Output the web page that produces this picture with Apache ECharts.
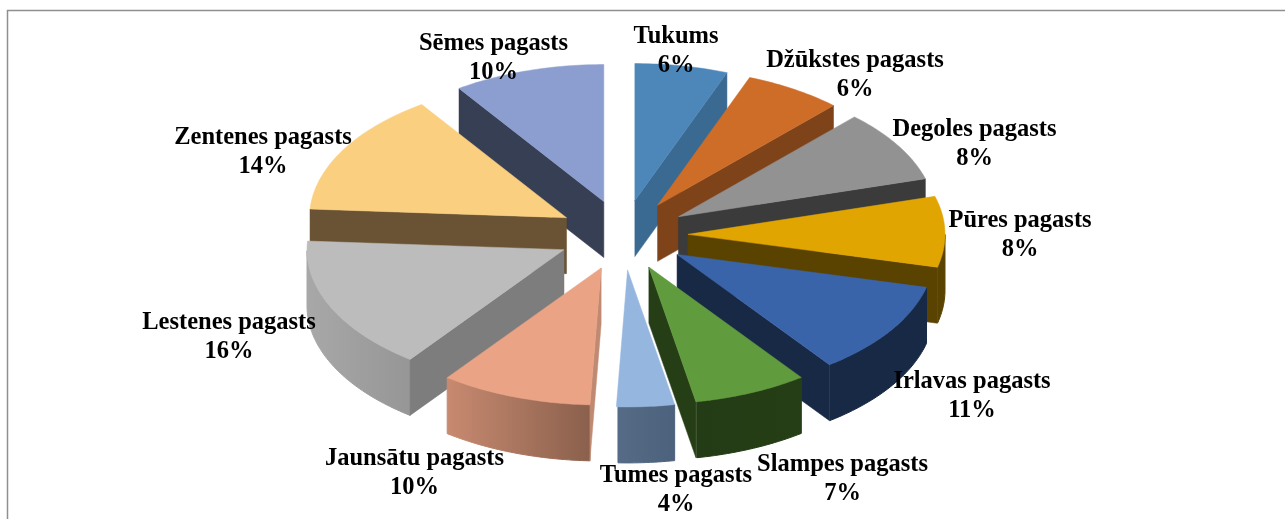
<!DOCTYPE html>
<html>
<head>
<meta charset="utf-8">
<style>html,body{margin:0;padding:0;background:#fff}#c{width:1285px;height:519px}</style>
<script src="https://cdn.jsdelivr.net/npm/echarts@6/dist/echarts.min.js"></script>
</head>
<body>
<div id="c"></div>
<script>
// ---- data ----
var categories = ['Tukums','Džūkstes pagasts','Degoles pagasts','Pūres pagasts','Irlavas pagasts','Slampes pagasts','Tumes pagasts','Jaunsātu pagasts','Lestenes pagasts','Zentenes pagasts','Sēmes pagasts'];
var shares = [6,6,8,8,11,7,4,10,16,14,10];

// ---- styles ----
var faceColors = ['#4d87ba','#ce6d28','#929292','#e0a500','#3a64aa','#609b3e','#95b6df','#eaa385','#bcbcbc','#fbcf80','#8c9ecf'];
var wallColors = ['#3a6a92','#7f431a','#3b3b3b','#5a4300','#172945','#263e16','#50657f','#c08a72','#7d7d7d','#695334','#373f54'];
var rimLeft    = ['#3a6a92','#7f431a','#3b3b3b','#5a4300','#172945','#243c15','#566b85','#c88a70','#a8a8a8','#695334','#373f54'];
var rimRight   = ['#3a6a92','#7f431a','#3b3b3b','#5a4300','#172945','#263e16','#4c617c','#8a604c','#969696','#695334','#373f54'];
var labelCenterX = [676,855,974.5,1020,972,842.5,676,414.5,229,263,493.5];
var labelCenterY = [51.5,75,144,235.5,396,479.5,490,473.5,337,152,58];

// ---- projection of the tilted, exploded pie ----
var view = {cx:623, cy:235, rx:257, ry:137, ex:65, ey:35, depth:56};
// perspective correction of the pie angle, in degrees: [angle, shift]
var perspective = [[0,0],[21.6,-0.6],[43,0],[72,1.9],[100,3.1],[140,3.2],[165,3.9],[180,2.5],[216,0.8],[273,0],[324,1.7],[360,0]];
var RAD = Math.PI/180;
function warp(deg){
  for(var i=1;i<perspective.length;i++){
    var p=perspective[i-1], q=perspective[i];
    if(deg<=q[0]) return deg+p[1]+(q[1]-p[1])*(deg-p[0])/(q[0]-p[0]);
  }
  return deg;
}
var total = shares.reduce(function(a,b){return a+b;},0);
var cum = 0;
var slices = categories.map(function(name,i){
  var s = cum/total*360; cum += shares[i]; var e = cum/total*360;
  var m = warp((s+e)/2);
  return {i:i, start:s, end:e, ax:view.cx+view.ex*Math.sin(m*RAD), ay:view.cy-view.ey*Math.cos(m*RAD)};
});
function rimPoint(sl,deg,dy){
  var t = warp(deg)*RAD;
  return [sl.ax+view.rx*Math.sin(t), sl.ay-view.ry*Math.cos(t)+(dy||0)];
}
// far slices are painted first
var paintOrder = slices.slice().sort(function(a,b){return a.ay-b.ay;}).map(function(s){return s.i;});

function poly(points,fill){
  return {type:'polygon', shape:{points:points}, style:{fill:fill, stroke:fill, lineWidth:0.5}};
}
function renderSlice(params,api){
  var sl = slices[api.value(0)], idx = sl.i, d = view.depth, children = [];
  var apex = [sl.ax,sl.ay], apexLow = [sl.ax,sl.ay+d];
  // curved outer wall: only the part that faces the viewer
  var from = -1, to = -1, a;
  for(a=sl.start;a<=sl.end+1e-6;a+=0.5){
    if(Math.cos(warp(a)*RAD)<0){ if(from<0) from=a; to=a; }
  }
  if(from>=0 && to>from){
    var upper=[], lower=[];
    for(a=from;a<to;a+=1){upper.push(rimPoint(sl,a)); lower.unshift(rimPoint(sl,a,d));}
    upper.push(rimPoint(sl,to)); lower.unshift(rimPoint(sl,to,d));
    var grad = new echarts.graphic.LinearGradient(0,0,1,0,[{offset:0,color:rimLeft[idx]},{offset:1,color:rimRight[idx]}]);
    children.push({type:'polygon',shape:{points:upper.concat(lower)},style:{fill:grad,stroke:grad,lineWidth:1}});
  }
  // straight walls: only those facing the viewer
  [[sl.start,sl.end],[sl.end,sl.start]].forEach(function(pair){
    var P = rimPoint(sl,pair[0]), Q = rimPoint(sl,pair[1]);
    var cross = (P[0]-sl.ax)*(Q[1]-sl.ay)-(P[1]-sl.ay)*(Q[0]-sl.ax);
    if(cross*(P[0]-sl.ax)<0){
      children.push(poly([apex,P,rimPoint(sl,pair[0],d),apexLow],wallColors[idx]));
    }
  });
  // top face
  var face=[apex];
  for(a=sl.start;a<sl.end;a+=1) face.push(rimPoint(sl,a));
  face.push(rimPoint(sl,sl.end));
  children.push(poly(face,faceColors[idx]));
  return {type:'group',children:children};
}
function renderLabel(params,api){
  var i = api.value(0);
  return {type:'text',x:labelCenterX[i],y:labelCenterY[i],style:{
    text:categories[i]+'\n'+shares[i]+'%',
    fill:'#000',
    font:'bold 24.5px "Liberation Serif"',
    lineHeight:29,
    align:'center',verticalAlign:'middle'
  }};
}

var chart = echarts.init(document.getElementById('c'),null,{renderer:'canvas'});
chart.setOption({
  animation:false,
  backgroundColor:'#ffffff',
  graphic:[
    {type:'polyline',shape:{points:[[7.5,519],[7.5,10.5],[1285,10.5]]},style:{stroke:'#8f8f8f',lineWidth:1.5,fill:null},silent:true}
  ],
  series:[
    {type:'custom',coordinateSystem:'none',renderItem:renderSlice,data:paintOrder.map(function(i){return [i];}),z:2,silent:true},
    {type:'custom',coordinateSystem:'none',renderItem:renderLabel,data:categories.map(function(n,i){return [i];}),z:3,silent:true}
  ]
});
</script>
</body>
</html>
